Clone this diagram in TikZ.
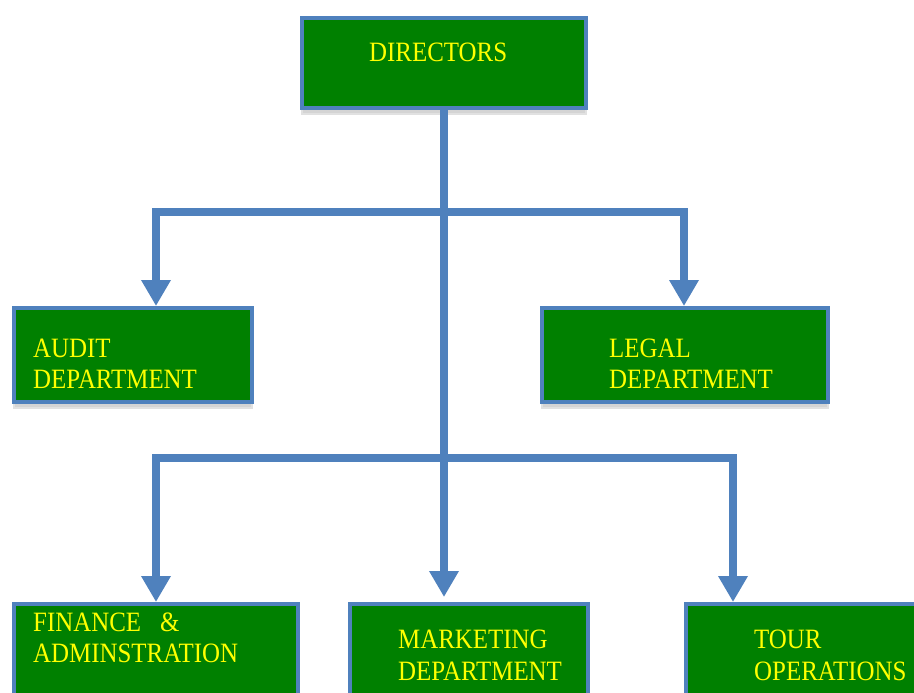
\documentclass[tikz,border=0pt]{standalone}
\usepackage{fontspec}
\setmainfont{Liberation Serif}[FakeStretch=0.89]
\usetikzlibrary{arrows.meta,calc}
\definecolor{boxgreen}{RGB}{0,128,0}
\definecolor{txtyellow}{RGB}{255,255,0}
\definecolor{linkblue}{RGB}{79,129,189}
\definecolor{shadegray}{RGB}{212,212,212}
\tikzset{
  orgbox/.style={draw=linkblue, line width=4pt, fill=boxgreen, inner sep=0pt, outer sep=2pt},
  boxshade/.style={draw=shadegray!70!white, line width=2pt, fill=shadegray, inner sep=0pt},
  lbl/.style={text=txtyellow, anchor=base west, inner sep=0pt, font=\fontsize{28}{34}\selectfont},
  conn/.style={draw=linkblue, line width=8pt, line join=miter},
  connshade/.style={draw=shadegray, line width=8pt, line join=miter},
  tip/.style={-{Triangle[width=28pt,length=26pt]}},
}
\begin{document}
\begin{tikzpicture}[x=1pt,y=-1pt]
\clip (0,0) rectangle (914,693);
\fill[white] (0,0) rectangle (914,693);
% box shadows
\foreach \cx/\cy/\w/\h in {444/63/284/90, 133/355/238/94, 685/355/286/94}
  \node[boxshade, minimum width=\w pt, minimum height=\h pt] at (\cx,\cy+6) {};
% coordinates
\coordinate (j1) at (444,212);
\coordinate (h1L) at (156,212);
\coordinate (h1R) at (684,212);
\coordinate (j2) at (444,458);
\coordinate (h2L) at (156,458);
\coordinate (h2R) at (733,458);
\coordinate (mkttip) at (444,597);
% boxes
\node[orgbox, minimum width=284pt, minimum height=90pt] (dir) at (444,63) {};
\node[orgbox, minimum width=238pt, minimum height=94pt] (audit) at (133,355) {};
\node[orgbox, minimum width=286pt, minimum height=94pt] (legal) at (685,355) {};
\node[orgbox, minimum width=284pt, minimum height=116pt] (fin) at (156,662) {};
\node[orgbox, minimum width=238pt, minimum height=116pt] (mkt) at (469,662) {};
\node[orgbox, minimum width=274pt, minimum height=116pt] (tour) at (823,662) {};
% connector shadows
\begin{scope}[shift={(2,4)}]
  \draw[connshade] (h1L) -- (h1R);
  \draw[connshade] (h2L) -- (h2R);
\end{scope}
% connectors
\draw[conn] (dir.south) -- (j2);
\draw[conn, tip] (j1) -- (h1L) -- (h1L |- audit.north);
\draw[conn, tip] (j1) -- (h1R) -- (h1R |- legal.north);
\draw[conn, tip] (j2) -- (h2L) -- (h2L |- fin.north);
\draw[conn, tip] (j2) -- (h2R) -- (h2R |- tour.north);
\draw[conn, tip] (j2) -- (mkttip);
% labels
\node[lbl] (tdir) at (369,62) {DIRECTORS};
\node[lbl] (taud1) at (33,357) {AUDIT};
\node[lbl] (taud2) at (33,388) {DEPARTMENT};
\node[lbl] (tleg1) at (609,357) {LEGAL};
\node[lbl] (tleg2) at (609,388) {DEPARTMENT};
\node[lbl] (tfin1) at (33,631) {FINANCE\hspace{19pt}\&};
\node[lbl] (tfin2) at (33,662) {ADMINSTRATION};
\node[lbl] (tmkt1) at (398,648) {MARKETING};
\node[lbl] (tmkt2) at (398,680) {DEPARTMENT};
\node[lbl] (ttour1) at (754,648) {TOUR};
\node[lbl] (ttour2) at (754,680) {OPERATIONS};
\end{tikzpicture}
\end{document}
